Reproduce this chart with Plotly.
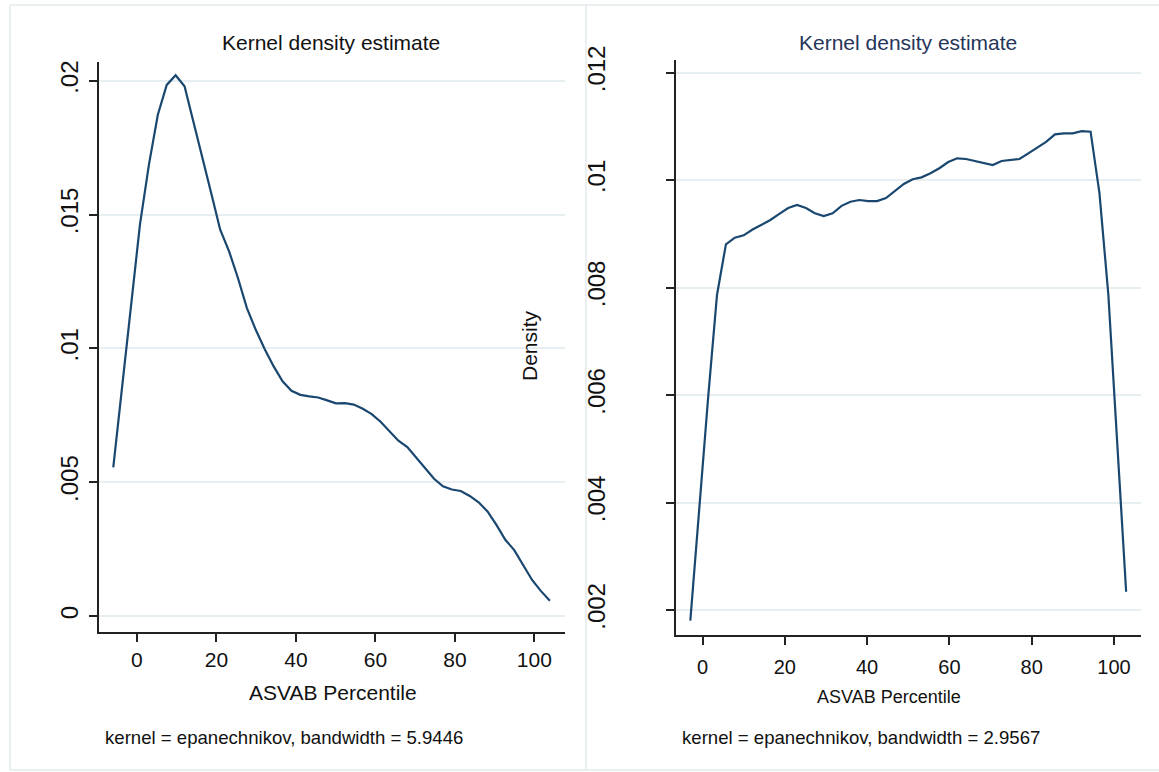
import plotly.graph_objects as go

# ---------------- data ----------------
left_x = [-5.94, -3.70, -1.46, 0.78, 3.03, 5.27, 7.51, 9.75, 11.99, 14.23,
          16.48, 18.72, 20.96, 23.20, 25.44, 27.68, 29.93, 32.17, 34.41, 36.65,
          38.89, 41.13, 43.38, 45.62, 47.86, 50.10, 52.34, 54.58, 56.83, 59.07,
          61.31, 63.55, 65.79, 68.03, 70.28, 72.52, 74.76, 77.00, 79.24, 81.48,
          83.73, 85.97, 88.21, 90.45, 92.69, 94.93, 97.18, 99.42, 101.66, 103.90]
left_density = [0.005559, 0.008563, 0.011653, 0.014631, 0.016865, 0.018727, 0.019844, 0.020205, 0.019795, 0.018485,
                0.017126, 0.015786, 0.014434, 0.013626, 0.012621, 0.011504, 0.010685, 0.009966, 0.009326, 0.008768,
                0.008414, 0.008265, 0.008209, 0.008165, 0.008057, 0.007949, 0.007956, 0.007900, 0.007744, 0.007547,
                0.007260, 0.006906, 0.006552, 0.006310, 0.005920, 0.005510, 0.005127, 0.004847, 0.004728, 0.004672,
                0.004486, 0.004248, 0.003909, 0.003407, 0.002848, 0.002465, 0.001899, 0.001348, 0.000931, 0.000570]

right_x = [-2.96, -0.80, 1.36, 3.52, 5.69, 7.85, 10.01, 12.17, 14.33, 16.49,
           18.66, 20.82, 22.98, 25.14, 27.30, 29.46, 31.62, 33.79, 35.95, 38.11,
           40.27, 42.43, 44.59, 46.75, 48.92, 51.08, 53.24, 55.40, 57.56, 59.72,
           61.89, 64.05, 66.21, 68.37, 70.53, 72.69, 74.85, 77.02, 79.18, 81.34,
           83.50, 85.66, 87.82, 89.98, 92.15, 94.31, 96.47, 98.63, 100.79, 102.95]
right_density = [0.001801, 0.003954, 0.005944, 0.007861, 0.008804, 0.008927, 0.008971, 0.009079, 0.009167, 0.009256,
                 0.009371, 0.009479, 0.009535, 0.009479, 0.009382, 0.009330, 0.009382, 0.009520, 0.009596, 0.009628,
                 0.009609, 0.009609, 0.009665, 0.009795, 0.009926, 0.010015, 0.010050, 0.010125, 0.010220, 0.010335,
                 0.010404, 0.010391, 0.010354, 0.010322, 0.010279, 0.010354, 0.010367, 0.010391, 0.010497, 0.010608,
                 0.010711, 0.010850, 0.010869, 0.010869, 0.010908, 0.010899, 0.009753, 0.007861, 0.005107, 0.002340]

x_ticks = [0, 20, 40, 60, 80, 100]
left_yticks = [0, 0.005, 0.01, 0.015, 0.02]
left_yticktext = ["0", ".005", ".01", ".015", ".02"]
right_yticks = [0.002, 0.004, 0.006, 0.008, 0.010, 0.012]
right_yticktext = [".002", ".004", ".006", ".008", ".01", ".012"]

title_text = "Kernel density estimate"
xaxis_title = "ASVAB Percentile"
yaxis_title = "Density"
left_note = "kernel = epanechnikov, bandwidth = 5.9446"
right_note = "kernel = epanechnikov, bandwidth = 2.9567"

# ---------------- layout helpers ----------------
W, H = 1159, 772
def fx(p):
    return p / W
def fy(p):
    return 1 - p / H

FONT = "Liberation Sans, Arial, sans-serif"
LINE = "#1a476f"
GRID = "#e6eef1"
FRAME = "#e3eaed"

fig = go.Figure()
fig.add_trace(go.Scatter(x=left_x, y=left_density, mode="lines",
                         line=dict(color=LINE, width=2.2), xaxis="x", yaxis="y",
                         showlegend=False, hoverinfo="x+y"))
fig.add_trace(go.Scatter(x=right_x, y=right_density, mode="lines",
                         line=dict(color=LINE, width=2.2), xaxis="x2", yaxis="y2",
                         showlegend=False, hoverinfo="x+y"))

axis_common = dict(showline=True, linecolor="#222222", linewidth=1.6,
                   ticks="outside", ticklen=8, tickwidth=1.6, tickcolor="#222222",
                   zeroline=False, fixedrange=True, automargin=False)

fig.update_layout(
    width=W, height=H,
    margin=dict(l=0, r=0, t=0, b=0, pad=0, autoexpand=False),
    paper_bgcolor="white", plot_bgcolor="white",
    font=dict(family=FONT, color="#111111"),
    xaxis=dict(domain=[fx(99), fx(565)], anchor="y", range=[-9.53, 107.7],
               tickvals=x_ticks, showgrid=False,
               tickfont=dict(size=21), **axis_common),
    yaxis=dict(domain=[fy(632), fy(62)], anchor="x", range=[-0.000596, 0.0207],
               tickvals=left_yticks, ticktext=left_yticktext, tickangle=-90,
               showgrid=True, gridcolor=GRID, gridwidth=2, ticklabelstandoff=2,
               tickfont=dict(size=24), **axis_common),
    xaxis2=dict(domain=[fx(676), fx(1141)], anchor="y2", range=[-6.44, 106.56],
                tickvals=x_ticks, showgrid=False, ticklabelstandoff=5,
                tickfont=dict(size=20), **axis_common),
    yaxis2=dict(domain=[fy(635), fy(60)], anchor="x2", range=[0.001535, 0.012233],
                tickvals=right_yticks, ticktext=right_yticktext, tickangle=-90,
                showgrid=True, gridcolor=GRID, gridwidth=2, ticklabelstandoff=52,
                tickfont=dict(size=24), **axis_common),
)

shapes = [
    dict(type="line", xref="paper", yref="paper", x0=fx(10), x1=1, y0=fy(5), y1=fy(5),
         line=dict(color=FRAME, width=1.5)),
    dict(type="line", xref="paper", yref="paper", x0=fx(10), x1=1, y0=fy(770), y1=fy(770),
         line=dict(color=FRAME, width=1.5)),
    dict(type="line", xref="paper", yref="paper", x0=fx(10), x1=fx(10), y0=fy(5), y1=fy(770),
         line=dict(color=FRAME, width=1.5)),
    dict(type="line", xref="paper", yref="paper", x0=fx(586), x1=fx(586), y0=fy(5), y1=fy(770),
         line=dict(color=FRAME, width=1.5)),
]
fig.update_layout(shapes=shapes)

ann = [
    dict(text=title_text, x=fx(331), y=fy(43), font=dict(size=21, color="#111111")),
    dict(text=title_text, x=fx(908), y=fy(43), font=dict(size=21, color="#26365a")),
    dict(text=xaxis_title, x=fx(333), y=fy(692), font=dict(size=21, color="#111111")),
    dict(text=xaxis_title, x=fx(889), y=fy(697), font=dict(size=18, color="#111111")),
    dict(text=yaxis_title, x=fx(529), y=fy(346), textangle=-90, font=dict(size=21, color="#111111")),
    dict(text=left_note, x=fx(103), y=fy(737), xanchor="left", font=dict(size=18.6, color="#111111")),
    dict(text=right_note, x=fx(680), y=fy(737), xanchor="left", font=dict(size=18.6, color="#111111")),
]
for a in ann:
    a.setdefault("xanchor", "center")
    a.update(xref="paper", yref="paper", yanchor="middle", showarrow=False)
fig.update_layout(annotations=ann)

fig.write_html("out.html",
               config={"displayModeBar": False, "staticPlot": False},
               post_script="document.body.style.margin='0px';document.body.style.padding='0px';"
                           "document.body.style.overflow='hidden';")
